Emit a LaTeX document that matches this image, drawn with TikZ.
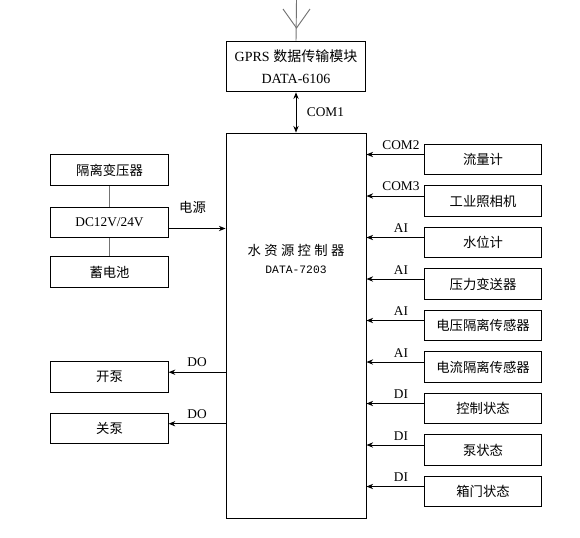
\documentclass[tikz,border=0pt]{standalone}
\usepackage{fontspec}
\setmainfont{Liberation Serif}
\setmonofont{Liberation Mono}
\newfontfamily\cjk{Noto Sans CJK SC}
\newfontfamily\cjkwide{Noto Sans CJK SC}[LetterSpace=25]
\usetikzlibrary{positioning, calc, arrows.meta}
\tikzset{
    unit/.style={draw, minimum width=88pt, minimum height=23pt, inner sep=0pt, font=\fontsize{10}{12}\selectfont},
    feed/.style={->, >={Stealth[length=5pt, width=4pt]}, every node/.style={font=\fontsize{10}{12}\selectfont}},
    link/.style={draw=black!55}
}

\begin{document}
\begin{tikzpicture}[x=0.75pt, y=-0.75pt, line width=0.7pt]
        \useasboundingbox (0,0) rectangle (580,537);
        %Frames
        \node[draw, minimum width=105pt, minimum height=288.75pt] (ctl) at (296,325.5) {};
        \node[font=\fontsize{10}{12}\selectfont] (ctlname) at (296,250) {\cjkwide 水资源控制器};
        \node[font=\ttfamily\fontsize{8.5}{10}\selectfont] (ctlid) at (296,270) {DATA-7203};
        \node[draw, minimum width=104pt, minimum height=38pt, inner sep=0pt, align=center,
              font=\fontsize{10.5}{16.5}\selectfont] (gprs) at (296,66.5) {GPRS {\cjk 数据传输模块}\\DATA-6106};
        %Left side
        \node[unit] (xfmr) at (109.5,170) {\cjk 隔离变压器};
        \node[unit] (dc) at (109.5,222.5) {DC12V/24V};
        \node[unit] (batt) at (109.5,272) {\cjk 蓄电池};
        \node[unit] (start) at (109.5,377) {\cjk 开泵};
        \node[unit] (stop) at (109.5,428.5) {\cjk 关泵};
        %Right side
        \foreach \name/\txt [count=\i] in {flow/流量计, camera/工业照相机, level/水位计, press/压力变送器,
                volt/电压隔离传感器, curr/电流隔离传感器, state/控制状态, pump/泵状态, door/箱门状态}{
            \node[unit] (\name) at (483,{118+41.5*\i}) {\cjk \txt};
        }
        %Antenna
        \coordinate (mast) at (296.5,0);
        \draw[link] (gprs.north) -- (mast);
        \draw[link] (283,9) -- (296.5,28) -- (310,9);
        %Paths (top-down)
        \draw[feed, <->] (gprs.south) -- node[right=4.5pt] {COM1} (ctl.north);
        \draw[link] (xfmr) -- (dc);
        \draw[link] (dc) -- (batt);
        \draw[feed] ([yshift=-4.5pt]dc.east) -- ([yshift=-4.5pt]dc.east -| ctl.west)
            node[pos=0.42, above=7.5pt] {\cjk 电源};
        \foreach \name in {start, stop}{
            \draw[feed] ([yshift=3.6pt]\name.east -| ctl.west) -- ([yshift=3.6pt]\name.east)
                node[pos=0.5, above=0.5pt] {DO};
        }
        \foreach \name/\sig in {flow/COM2, camera/COM3, level/AI, press/AI, volt/AI, curr/AI,
                state/DI, pump/DI, door/DI}{
            \draw[feed] ([yshift=3.75pt]\name.west) -- ([yshift=3.75pt]\name.west -| ctl.east)
                node[pos=0.4, above] {\sig};
        }
\end{tikzpicture}
\end{document}
